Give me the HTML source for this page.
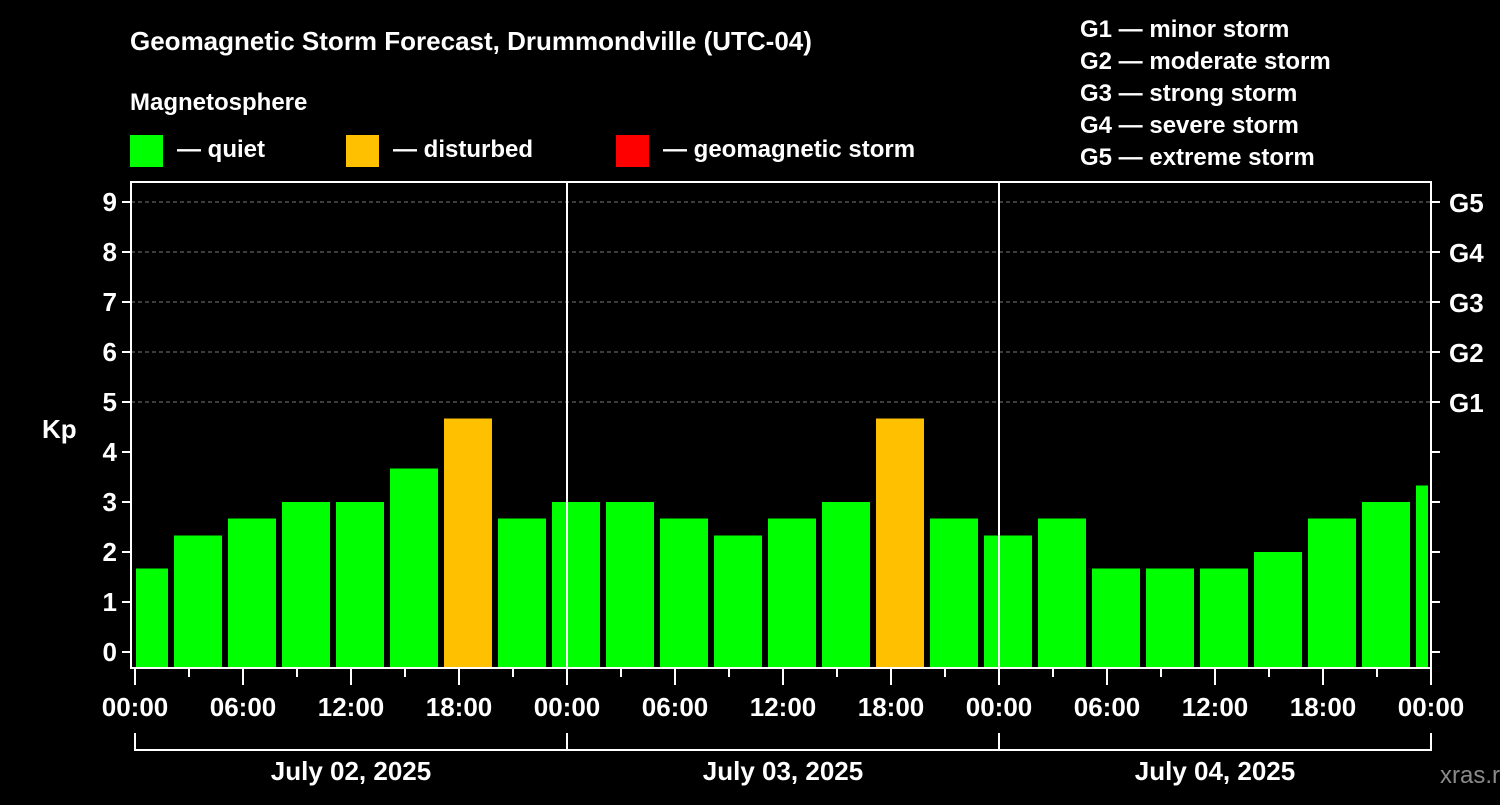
<!DOCTYPE html>
<html><head><meta charset="utf-8"><style>
body{margin:0;background:#000;width:1500px;height:800px;overflow:hidden}
svg text{font-family:"Liberation Sans",Arial,sans-serif;font-weight:bold;fill:#fff}
</style></head><body>
<svg id="chart" width="1500" height="800" xmlns="http://www.w3.org/2000/svg">
<rect width="1500" height="800" fill="#000"/>
<text x="130" y="50" font-size="26">Geomagnetic Storm Forecast, Drummondville (UTC-04)</text>
<text x="130" y="110" font-size="24">Magnetosphere</text>
<g><rect x="130" y="135" width="33" height="32" fill="#00ff00"/><text x="177" y="157" font-size="24">— quiet</text></g>
<g><rect x="346" y="135" width="33" height="32" fill="#ffc000"/><text x="393" y="157" font-size="24">— disturbed</text></g>
<g><rect x="616" y="135" width="33" height="32" fill="#ff0000"/><text x="663" y="157" font-size="24">— geomagnetic storm</text></g>
<g font-size="24">
<text x="1080" y="37">G1 — minor storm</text>
<text x="1080" y="69">G2 — moderate storm</text>
<text x="1080" y="101">G3 — strong storm</text>
<text x="1080" y="133">G4 — severe storm</text>
<text x="1080" y="165">G5 — extreme storm</text>
</g>
<text x="42" y="438" font-size="26">Kp</text>
<text x="1440" y="783" font-size="24" fill="#888" style="fill:#8a8a8a;font-weight:normal">xras.ru</text>
<g id="grid"></g><g id="bars"></g><g id="axes"></g>
</svg>
<script>
const kpValues=[1.67,2.33,2.67,3,3,3.67,4.67,2.67,3,3,2.67,2.33,2.67,3,4.67,2.67,2.33,2.67,1.67,1.67,1.67,2,2.67,3,3.33];
const yTicks=[0,1,2,3,4,5,6,7,8,9];
const gLabels=["G1","G2","G3","G4","G5"];
const dayLabels=["July 02, 2025","July 03, 2025","July 04, 2025"];
const hourLabels=["00:00","06:00","12:00","18:00"];
const NS="http://www.w3.org/2000/svg";
const L=131,R=1431,T=182,B=668,X0=135,HOUR=18;
const y=v=>652-v*50;
const x=h=>X0+h*HOUR;
function mk(tag,at,parent){const e=document.createElementNS(NS,tag);for(const k in at)e.setAttribute(k,at[k]);parent.appendChild(e);return e;}
const grid=document.getElementById('grid'),bars=document.getElementById('bars'),axes=document.getElementById('axes');
yTicks.forEach(v=>{if(v>=5){const g=mk('line',{x1:L,x2:R,y1:y(v),y2:y(v),stroke:'#777','stroke-dasharray':'4,3','stroke-width':1},grid);

}});
kpValues.forEach((v,i)=>{
 const c=x(i*3+0.5);let x1=c-24,x2=c+24;x1=Math.max(x1,L+5);x2=Math.min(x2,R-3);
 const r=mk('rect',{x:x1,y:y(v),width:x2-x1,height:B-y(v),fill:v>=5?'#ff0000':v>=4?'#ffc000':'#00ff00'},bars);
 
 
});
mk('rect',{x:L,y:T,width:R-L,height:B-T,fill:'none',stroke:'#fff','stroke-width':2},axes);
[1,2].forEach(d=>{const l=mk('line',{x1:x(d*24),x2:x(d*24),y1:T,y2:B,stroke:'#fff','stroke-width':2},axes);

});
yTicks.forEach(v=>{
 mk('line',{x1:L-9,x2:L,y1:y(v),y2:y(v),stroke:'#fff','stroke-width':2},axes);
 mk('line',{x1:R,x2:R+9,y1:y(v),y2:y(v),stroke:'#fff','stroke-width':2},axes);
 const t=mk('text',{x:L-14,y:y(v)+9,'font-size':26,'text-anchor':'end'},axes);t.textContent=v;
 
 
});
gLabels.forEach((g,i)=>{const t=mk('text',{x:1449,y:y(5+i)+10,'font-size':26},axes);t.textContent=g;

});
for(let h=0;h<=72;h+=3){const major=h%6===0;mk('line',{x1:x(h),x2:x(h),y1:B,y2:B+(major?17:9),stroke:'#fff','stroke-width':2},axes);}
for(let h=0;h<=72;h+=6){const t=mk('text',{x:x(h),y:716,'font-size':26,'text-anchor':'middle'},axes);t.textContent=hourLabels[(h/6)%4];

}
mk('path',{d:`M${x(0)} 733V750H${x(72)}V733M${x(24)} 733V750M${x(48)} 733V750`,stroke:'#fff','stroke-width':2,fill:'none'},axes);
dayLabels.forEach((d,i)=>{const t=mk('text',{x:x(i*24+12),y:780,'font-size':26,'text-anchor':'middle'},axes);t.textContent=d;

});
</script>
</body></html>
